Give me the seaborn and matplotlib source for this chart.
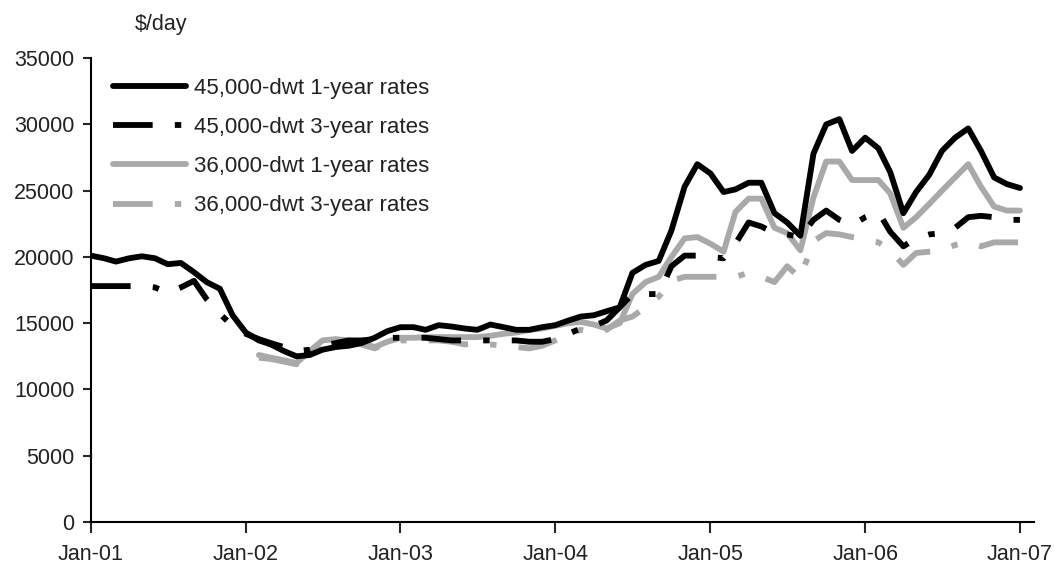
import pandas as pd
import numpy as np
import matplotlib
matplotlib.use('Agg')
import matplotlib.pyplot as plt
import matplotlib.dates as mdates
import seaborn as sns
from matplotlib.lines import Line2D

# monthly time charter rates, $/day
dwt45_1yr = [20100, 19900, 19650, 19900, 20050, 19900, 19450, 19550, 18850, 18100,
             17600, 15600, 14300, 13700, 13400, 12900, 12500, 12600, 13000, 13200,
             13300, 13500, 13900, 14400, 14700, 14700, 14500, 14850, 14750, 14600,
             14500, 14900, 14700, 14500, 14500, 14700, 14850, 15200, 15500, 15600,
             15900, 16200, 18800, 19400, 19700, 22000, 25300, 27000, 26300, 24900,
             25100, 25600, 25600, 23300, 22600, 21600, 27800, 30000, 30400, 28000,
             29000, 28200, 26400, 23300, 24900, 26200, 28000, 29000, 29700, 28000,
             26000, 25500, 25200]
dwt45_3yr = [17800, 17800, 17800, 17800, 17800, 17700, 17300, 17700, 18200, 16800,
             15700, 14800, 14200, 13800, 13500, 13200, 12900, 13000, 13300, 13500,
             13700, 13700, 13800, 13900, 13900, 13900, 13900, 13800, 13700, 13700,
             13700, 13700, 13700, 13700, 13600, 13600, 13800, 14200, 14600, 14800,
             15200, 16200, 17200, 17200, 17200, 19300, 20100, 20100, 20000, 19900,
             21000, 22600, 22300, 21800, 21700, 21500, 22800, 23500, 22800, 22400,
             23000, 23400, 21900, 20800, 21400, 21700, 21800, 22200, 23000, 23100,
             23000, 22800, 22800]
# 36,000-dwt series start in Feb-02
dwt36_1yr = [12600, 12400, 12200, 12000, 12900, 13700, 13800, 13700, 13500, 13200,
             13600, 13900, 13900, 13950, 13950, 13950, 13950, 13950, 14050, 14200,
             14300, 14500, 14600, 14800, 15000, 15100, 14900, 14600, 15000, 17200,
             18100, 18500, 20000, 21400, 21500, 21000, 20400, 23400, 24400, 24400,
             22200, 21800, 20500, 24500, 27200, 27200, 25800, 25800, 25800, 24800,
             22200, 23000, 24000, 25000, 26000, 27000, 25300, 23800, 23500, 23500]
dwt36_3yr = [12400, 12300, 12100, 11900, 12700, 13500, 13700, 13700, 13400, 13100,
             13500, 13700, 13700, 13700, 13700, 13600, 13400, 13500, 13400, 13300,
             13200, 13100, 13300, 13700, 14200, 14500, 14300, 14500, 15200, 15500,
             16200, 17000, 18200, 18500, 18500, 18500, 18500, 18500, 18800, 18500,
             18100, 19300, 18400, 21200, 21800, 21700, 21500, 21300, 21100, 20500,
             19400, 20300, 20400, 20500, 20900, 21100, 20800, 21100, 21100, 21100]

labels = ['45,000-dwt 1-year rates', '45,000-dwt 3-year rates',
          '36,000-dwt 1-year rates', '36,000-dwt 3-year rates']

dates45 = pd.date_range('2001-01-01', periods=len(dwt45_1yr), freq='MS')
dates36 = pd.date_range('2002-02-01', periods=len(dwt36_1yr), freq='MS')

frames = []
for lab, vals, dts in zip(labels, [dwt45_1yr, dwt45_3yr, dwt36_1yr, dwt36_3yr],
                          [dates45, dates45, dates36, dates36]):
    frames.append(pd.DataFrame({'date': dts, 'rate': vals, 'series': lab}))
for_plotting = pd.concat(frames, ignore_index=True)

grey = '#a9a9a9'
col_pal = {labels[0]: 'black', labels[1]: 'black', labels[2]: grey, labels[3]: grey}
dash_pat = (6.8, 3.8, 1.1, 3.8)
dash_dict = {labels[0]: '', labels[1]: dash_pat, labels[2]: '', labels[3]: dash_pat}

sns.set_style('white')
plt.rcParams['font.family'] = ['Liberation Sans', 'DejaVu Sans']

fig = plt.figure(figsize=(10.54, 5.76), dpi=100)
ax = fig.add_axes([0.0863, 0.0938, 0.8947, 0.8052])

# draw greys first so the black lines sit on top
order = [labels[3], labels[2], labels[1], labels[0]]
for lab in order:
    sub = for_plotting[for_plotting['series'] == lab]
    sns.lineplot(data=sub, x='date', y='rate', color=col_pal[lab], linewidth=4.2,
                 ax=ax, legend=False)
    if dash_dict[lab]:
        ax.lines[-1].set_dashes(dash_dict[lab])

ax.set_ylim(0, 35000)
ax.set_yticks(np.arange(0, 35001, 5000))
ax.set_xlim(pd.Timestamp('2001-01-01'), pd.Timestamp('2007-02-03'))
ax.xaxis.set_major_locator(mdates.YearLocator())
ax.xaxis.set_major_formatter(mdates.DateFormatter('%b-%y'))
ax.set_xlabel('')
ax.set_ylabel('')

for side in ['top', 'right']:
    ax.spines[side].set_visible(False)
for side in ['left', 'bottom']:
    ax.spines[side].set_color('black')
    ax.spines[side].set_linewidth(1.5)
ax.tick_params(axis='y', direction='out', length=6, width=1.5, labelsize=15.5, pad=6,
               left=True, labelcolor='#222222')
ax.tick_params(axis='x', direction='out', length=8, width=1.5, labelsize=15.5, pad=8,
               bottom=True, labelcolor='#222222')

legend_elements = [
    Line2D([0], [0], color='black', lw=4.2, label=labels[0]),
    Line2D([0], [0], color='black', lw=4.2, dashes=dash_pat, label=labels[1]),
    Line2D([0], [0], color=grey, lw=4.2, label=labels[2]),
    Line2D([0], [0], color=grey, lw=4.2, dashes=dash_pat, label=labels[3]),
]
leg = ax.legend(handles=legend_elements, loc='upper left', bbox_to_anchor=(0.023, 0.958),
                frameon=False, fontsize=16, handlelength=3.3, handletextpad=0.35,
                labelspacing=0.82, borderpad=0, borderaxespad=0)
for txt in leg.get_texts():
    txt.set_color('#222222')

fig.text(0.153, 0.957, '$/day', ha='center', va='center', fontsize=15.5, color='#222222')

plt.savefig('out.png', dpi=100)
